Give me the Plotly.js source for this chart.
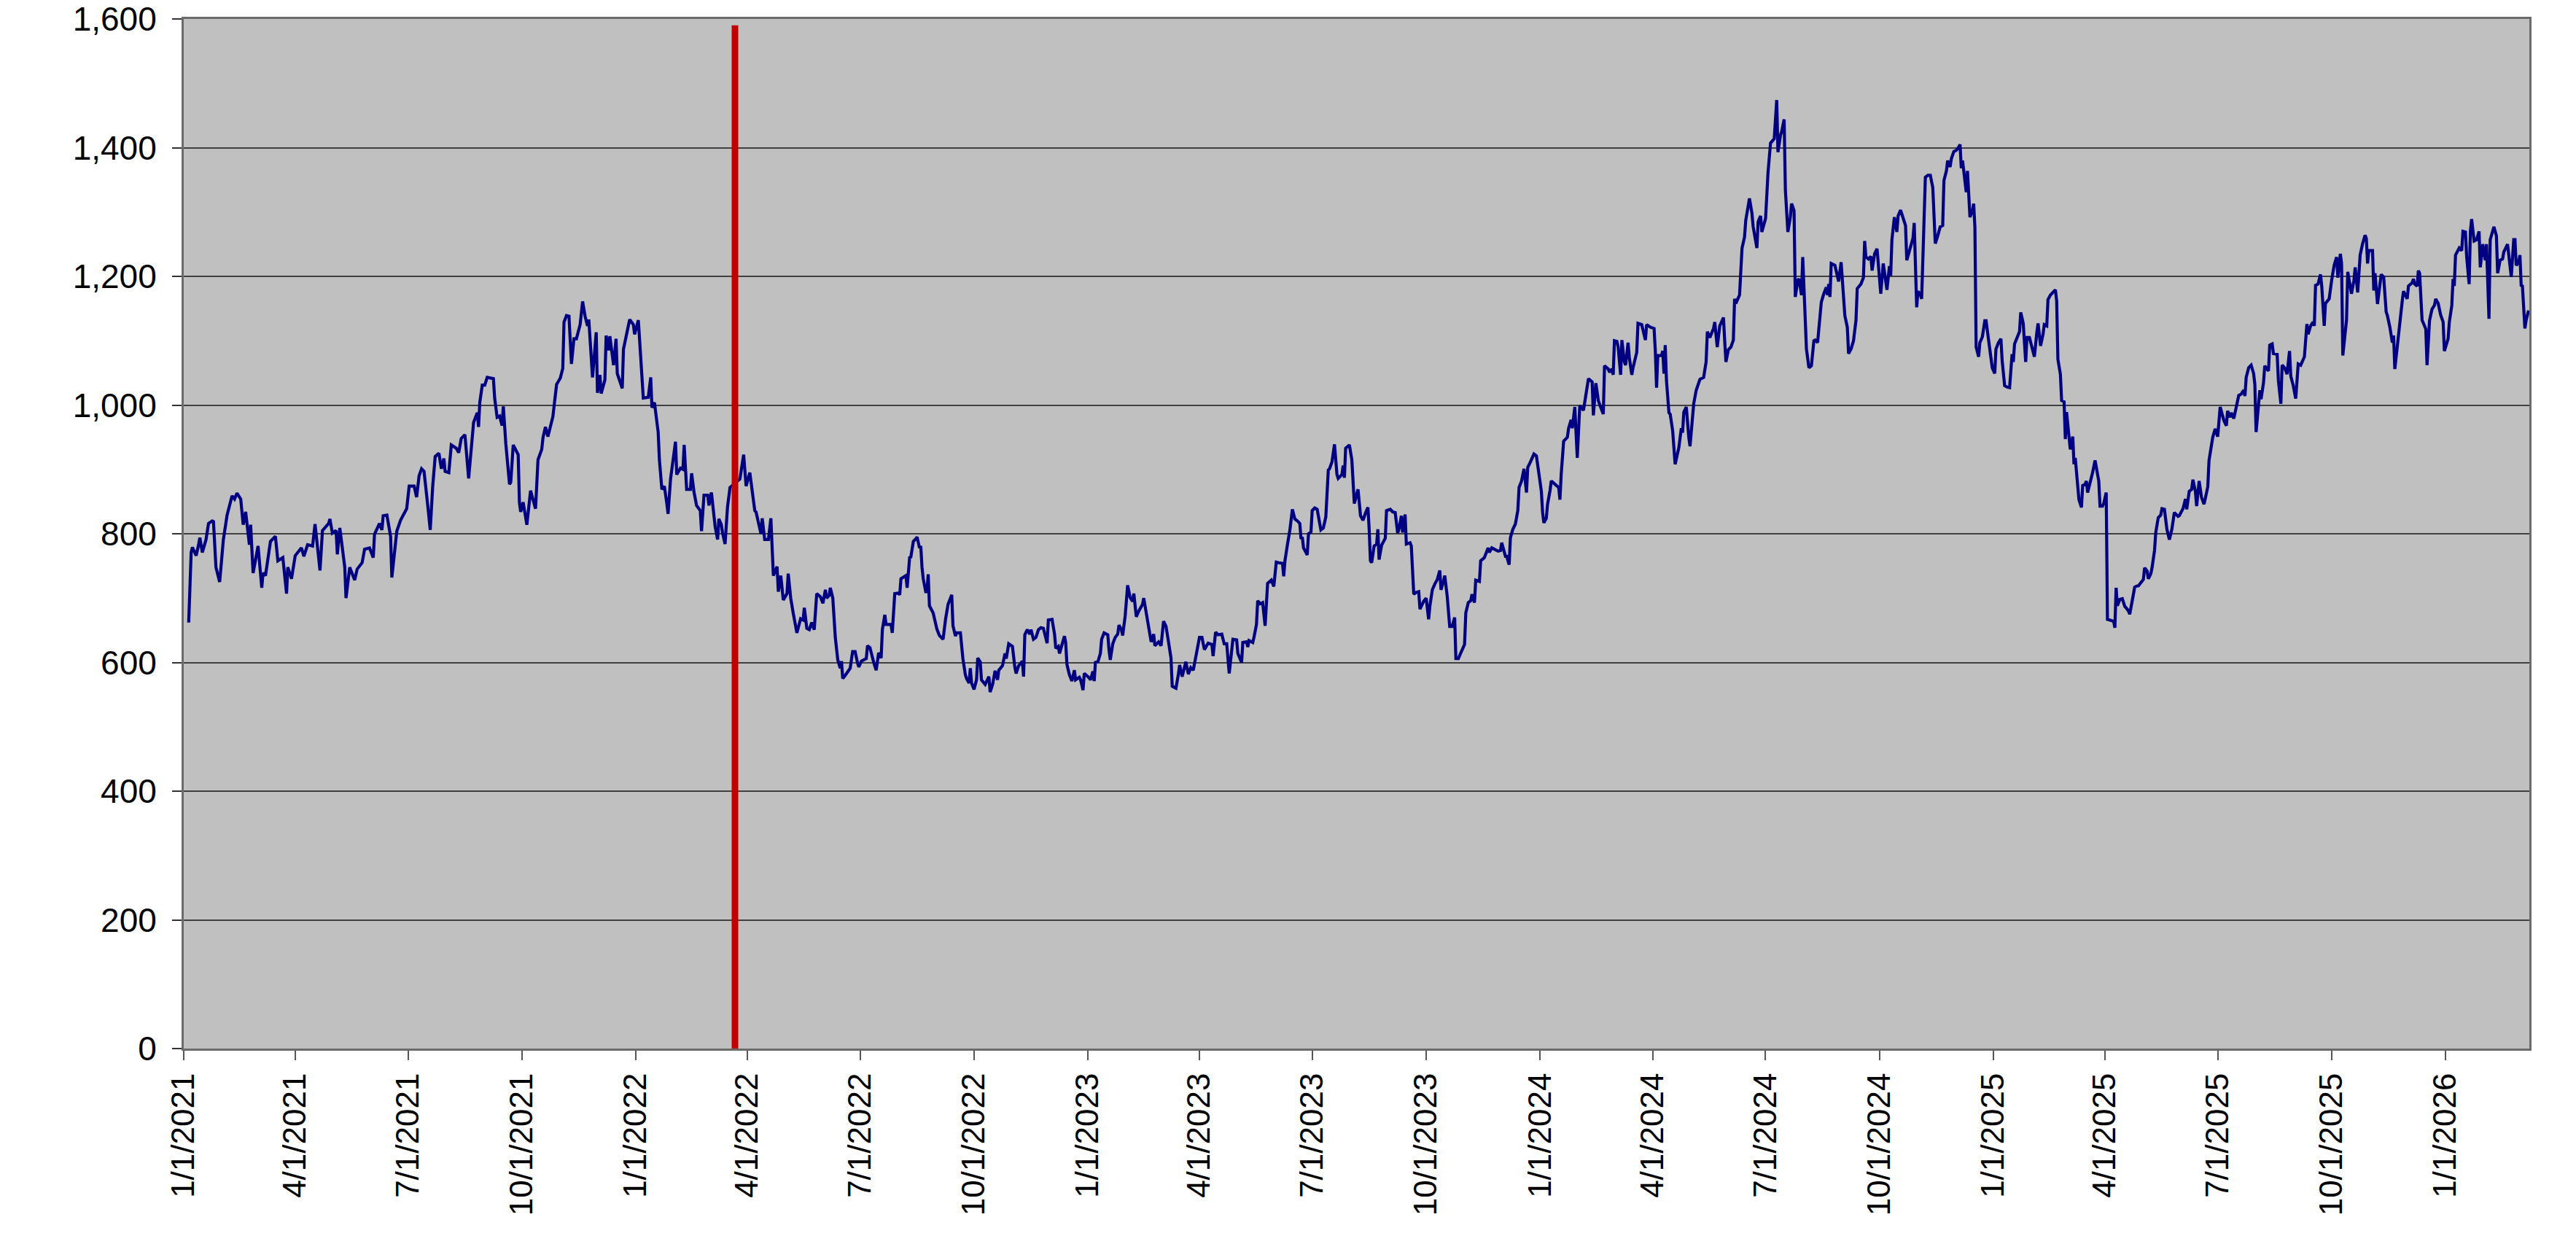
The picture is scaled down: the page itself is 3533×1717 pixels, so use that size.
<!DOCTYPE html>
<html>
<head>
<meta charset="utf-8">
<script src="https://cdn.plot.ly/plotly-3.0.1.min.js"></script>
<style>
  html, body { margin: 0; padding: 0; background: #fff; }
  #chart { width: 3533px; height: 1717px; }
</style>
</head>
<body>
<div id="chart"></div>
<script>
// days after 1/1/2021
var days = [
  4,6,7,10,12,13,15,18,20,23,
  24,26,29,32,35,39,41,43,46,48,
  50,53,54,56,60,63,64,66,70,74,
  76,80,83,84,87,90,95,97,100,104,
  106,110,112,117,118,120,123,124,126,130,
  131,134,138,140,144,146,150,153,154,158,
  160,161,164,167,168,172,175,180,182,186,
  188,190,192,194,197,199,201,203,206,208,
  210,211,214,215,216,220,222,224,227,230,
  232,234,237,238,239,241,243,245,250,251,
  253,255,257,258,260,263,264,266,270,271,
  272,274,277,280,284,286,289,290,292,294,
  298,300,301,304,306,307,309,311,313,315,
  317,320,322,324,326,327,330,333,334,336,
  337,340,341,343,344,347,349,350,354,355,
  357,360,363,364,367,370,371,375,377,378,
  380,383,384,386,388,390,391,393,395,397,
  398,401,403,404,406,409,410,412,414,417,
  418,420,423,424,426,429,431,432,434,435,
  437,439,441,449,452,454,457,461,462,466,
  467,469,472,474,476,
  479,480,482,484,487,488,490,492,494,495,
  498,500,501,503,505,507,509,511,514,516,
  518,519,521,522,524,526,528,530,531,532,
  534,537,538,540,542,544,545,547,551,552,
  554,557,559,561,563,564,566,567,571,572,
  573,574,577,578,579,581,583,584,585,586,
  587,589,591,592,594,595,596,597,599,600,
  601,602,605,607,608,610,613,615,617,620,
  621,623,624,627,629,631,632,634,635,636,
  638,640,641,643,644,647,650,651,653,655,
  657,658,661,663,664,666,669,671,672,674,
  677,678,679,681,683,684,686,688,690,692,
  694,697,698,701,703,704,706,707,711,712,
  713,715,717,719,720,723,724,726,727,731,
  732,734,735,736,738,740,741,743,746,747,
  748,750,752,754,755,757,758,760,762,764,
  766,767,769,771,774,775,777,778,780,781,
  783,784,787,789,791,793,795,797,798,801,
  803,804,806,809,811,813,815,818,820,822,
  824,827,830,831,833,835,838,840,842,844,
  847,850,851,854,855,858,859,860,863,864,
  866,867,869,871,873,875,878,880,882,884,
  887,888,889,891,893,895,897,899,901,902,
  903,904,907,908,910,911,913,915,917,918,
  920,922,924,925,927,929,931,932,935,936,
  937,938,941,943,
  945,948,950,952,954,956,957,958,959,961,
  963,964,965,967,970,971,974,976,978,980,
  981,983,984,986,987,990,991,993,995,997,
  998,1000,1001,1003,1005,1006,1008,1010,1012,1014,
  1015,1017,1018,1020,1022,1024,1026,1027,1029,1031,
  1034,1035,1037,1039,1040,1042,1043,1046,1047,1050,
  1053,1054,1056,1058,1061,1063,1064,1067,1068,1070,
  1071,1073,1075,1077,1078,1080,1082,1084,1085,1087,
  1090,1092,1094,1096,1097,1098,1100,1101,1103,1104,
  1107,1110,1111,1112,1114,1117,1118,1120,1121,1122,
  1123,1125,1127,1130,1132,1134,1137,1138,1140,1142,
  1144,1146,1147,1150,1151,1153,1154,1155,1157,1158,
  1160,1161,1163,1164,1166,1167,1169,1170,1173,1174,
  1177,1180,1181,1184,1187,1188,1189,1190,1193,1194,
  1195,1196,1197,1199,1200,1202,1204,1207,1209,1210,
  1211,1213,1215,1216,1219,1221,1224,1227,1229,1230,
  1232,1235,1236,1238,1240,1243,1244,1245,1247,1249,
  1251,1252,1253,1256,1258,1260,1261,1263,1264,1266,
  1267,1270,1271,1273,1274,1277,1279,1281,1284,1286,
  1287,1289,1290,1292,1293,1295,1297,1298,1300,1301,
  1303,1304,1306,1307,1309,1310,1312,1314,1316,1317,
  1319,1320,1322,1324,1326,1327,1328,1329,1330,1333,
  1334,1336,1338,1339,1341,1343,1344,1346,1348,1350,
  1351,1354,1356,1357,1358,1360,1362,1363,1365,1367,
  1369,1370,1372,1374,1375,1377,1378,1379,1381,1383,
  1384,1386,1388,1390,1391,1394,1396,1397,1399,1400,
  1402,1403,1405,1406,1408,1410,1412,
  1414,1416,1418,1420,1421,1423,1424,1426,1427,1429,
  1431,1433,1434,1435,1436,1437,1439,1440,1442,1444,
  1445,1446,1447,1449,1450,1452,1454,1455,1457,1458,
  1460,1462,1463,1465,1467,1468,1470,1472,1474,1476,
  1477,1478,1480,1482,1483,1485,1487,1488,1490,1492,
  1494,1496,1497,1499,1501,1502,1504,1505,1507,1509,
  1511,1512,1513,1515,1516,1518,1519,1520,1522,1523,
  1525,1526,1527,1529,1530,1532,1533,1535,1536,1537,
  1539,1541,1543,1545,1546,1547,1549,1550,1552,1553,
  1556,1558,1559,1560,1561,1563,1565,1567,1568,1570,
  1571,1573,1575,1577,1578,1580,1582,1583,1585,1586,
  1588,1589,1591,1592,1594,1596,1597,1599,1601,1603,
  1605,1607,1610,1611,1613,1614,1616,1617,1619,1621,
  1622,1624,1625,1627,1629,1631,1634,1635,1638,1640,
  1642,1644,1647,1649,1650,1652,1653,1655,1656,1658,
  1659,1661,1663,1664,1665,1667,1669,1671,1672,1673,
  1676,1677,1679,1680,1683,1684,1686,1687,1690,1691,
  1693,1694,1696,1698,1700,1701,1703,1705,1707,1709,
  1711,1712,1714,1715,1717,1719,1720,1721,1723,1725,
  1726,1728,1729,1732,1734,1736,1738,1739,1741,1742,
  1743,1746,1747,1750,1752,1753,1755,1757,1759,1761,
  1762,1763,1764,1767,1768,1769,1771,1772,1774,1776,
  1778,1779,1781,1783,1784,1785,1787,1789,1791,1792,
  1795,1796,1799,1800,1801,1803,1804,1805,1807,1809,
  1810,1811,1813,1815,1817,1818,1820,1822,1824,1825,
  1828,1829,1831,1832,1833,1834,1837,1839,1840,1842,
  1843,1845,1846,1847,1849,1851,1853,1854,1856,1858,
  1859,1861,1862,1865,1867,1868,1870,1872,1873,1876,
  1877,1879,1881,1882,1883,1885,1886,1887,1888,1890,
  1891,1893
];

var price = [
  662,771,779,766,783,794,771,791,816,820,
  819,748,725,791,829,859,854,863,854,814,
  834,783,814,739,781,716,739,735,788,796,
  758,763,707,748,730,766,778,765,783,781,
  815,743,805,816,823,801,805,768,809,748,
  700,748,728,745,755,776,778,763,799,816,
  806,828,829,796,732,804,821,839,874,874,
  857,890,901,897,844,806,874,920,925,901,
  917,897,895,921,938,933,926,948,954,886,
  935,973,988,966,1004,1031,1031,1043,1041,1011,
  981,983,968,998,940,877,880,938,923,849,
  834,849,814,867,839,915,931,949,966,951,
  982,1016,1032,1042,1057,1129,1139,1138,1064,1103,
  1103,1125,1161,1138,1123,1133,1043,1113,1019,1047,
  1018,1039,1108,1085,1107,1062,1103,1049,1026,1087,
  1107,1133,1125,1110,1132,1029,1011,1012,1043,996,
  1004,958,915,869,874,847,831,885,917,943,
  892,902,900,938,869,869,894,864,844,836,
  804,860,860,844,864,811,791,823,814,801,
  784,842,872,885,923,874,895,836,834,800,
  824,791,791,824,735,
  749,710,735,697,707,738,700,677,658,646,
  668,666,685,653,651,662,651,707,702,692,
  713,700,704,716,700,639,604,591,602,575,
  580,588,591,617,617,599,593,602,606,626,
  623,600,588,615,607,651,674,659,659,646,
  685,707,708,705,730,733,735,716,737,763,
  764,788,792,795,778,781,748,730,710,710,
  737,688,677,659,652,642,636,667,690,705,
  657,641,646,646,606,581,575,568,591,568,
  558,573,607,601,573,566,578,554,566,587,
  573,588,595,614,606,629,625,592,583,595,
  602,578,643,651,644,651,636,639,651,654,
  653,630,666,667,644,622,625,614,641,631,
  597,581,571,588,573,577,573,557,583,576,
  573,586,571,600,601,614,636,646,643,619,
  604,629,639,644,658,651,642,672,720,701,
  695,707,671,680,690,700,677,664,648,632,
  644,626,632,626,664,656,632,607,563,560,
  582,596,578,601,582,592,588,616,639,639,
  620,630,628,610,647,643,644,629,629,583,
  636,635,614,600,631,632,624,634,631,639,
  659,696,691,693,657,723,728,718,756,755,
  754,734,758,783,806,838,823,820,816,792,
  795,778,767,800,803,836,840,838,815,806,
  809,826,899,901,912,939,892,886,892,906,
  887,933,938,915,
  847,869,828,821,832,841,807,758,755,781,
  784,807,760,782,793,836,838,834,833,801,
  807,828,802,830,784,786,781,706,709,710,
  683,693,695,700,667,688,713,722,729,743,
  713,726,735,703,656,656,670,606,606,615,
  628,677,693,696,706,693,728,726,758,763,
  778,771,778,776,773,774,786,765,765,752,
  794,807,815,836,872,882,901,864,903,911,
  924,921,895,866,833,817,824,846,867,882,
  877,872,853,892,944,950,964,977,964,981,
  997,918,999,992,1017,1041,1036,984,1034,1007,
  996,986,1061,1056,1051,1056,1047,1100,1099,1090,
  1047,1101,1067,1062,1097,1074,1047,1058,1082,1127,
  1125,1101,1125,1121,1119,1084,1027,1077,1077,1084,
  1049,1093,1038,988,986,960,908,934,964,957,
  989,997,950,936,1002,1023,1040,1043,1067,1114,
  1105,1119,1129,1090,1123,1136,1100,1067,1086,1090,
  1101,1165,1158,1171,1244,1261,1287,1315,1321,1298,
  1277,1244,1285,1294,1269,1290,1362,1407,1414,1474,
  1393,1419,1425,1444,1334,1269,1292,1313,1302,1168,
  1194,1196,1171,1230,1123,1087,1058,1061,1100,1101,
  1097,1123,1160,1173,1183,1171,1188,1168,1220,1217,
  1209,1192,1222,1191,1139,1121,1080,1087,1100,1132,
  1181,1188,1198,1255,1230,1227,1231,1209,1235,1243,
  1191,1173,1220,1194,1179,1216,1201,1257,1292,1269,
  1294,1303,1292,1279,1225,1246,1259,1283,1152,1177,
  1171,1165,1308,1354,1357,1357,1338,
  1251,1263,1277,1279,1349,1364,1380,1370,1383,1394,
  1396,1401,1405,1368,1380,1364,1331,1364,1292,1302,
  1313,1276,1090,1075,1097,1106,1131,1131,1100,1084,
  1058,1049,1087,1097,1103,1069,1030,1028,1027,1079,
  1067,1095,1105,1114,1144,1127,1067,1105,1105,1090,
  1075,1113,1127,1092,1110,1125,1123,1164,1171,1175,
  1179,1162,1071,1048,1007,1005,947,989,950,931,
  951,908,918,869,853,841,875,877,882,864,
  879,895,914,895,882,843,843,847,864,667,
  665,664,654,716,688,698,699,687,685,680,
  675,695,717,719,719,724,729,747,742,730,
  738,747,774,802,825,829,839,838,807,791,
  807,833,827,828,834,839,854,838,866,869,
  884,866,843,882,856,846,873,914,950,963,
  951,997,976,968,991,981,988,979,988,1010,
  1015,1017,1023,1014,1043,1058,1062,1049,1032,958,
  1023,1009,1035,1061,1053,1093,1095,1080,1079,1038,
  1002,1062,1058,1048,1084,1045,1030,1010,1064,1062,
  1071,1075,1126,1110,1123,1129,1123,1186,1188,1203,
  1185,1123,1158,1165,1194,1217,1230,1198,1235,1220,
  1077,1132,1207,1173,1194,1214,1175,1233,1251,1264,
  1259,1220,1240,1240,1178,1205,1157,1175,1203,1199,
  1145,1139,1121,1097,1108,1056,1095,1126,1162,1177,
  1165,1185,1190,1196,1188,1185,1209,1205,1132,1123,
  1118,1062,1131,1149,1155,1165,1158,1140,1129,1084,
  1103,1129,1155,1196,1185,1233,1244,1240,1270,1269,
  1230,1188,1270,1289,1255,1257,1270,1214,1250,1225,
  1250,1134,1257,1277,1263,1205,1225,1227,1238,1250,
  1230,1199,1257,1257,1217,1222,1233,1186,1185,1119,
  1132,1147
];

var markDate = '2022-03-22';
var markTop = 1590;

var tickDates = [
  '2021-01-01','2021-04-01','2021-07-01','2021-10-01',
  '2022-01-01','2022-04-01','2022-07-01','2022-10-01',
  '2023-01-01','2023-04-01','2023-07-01','2023-10-01',
  '2024-01-01','2024-04-01','2024-07-01','2024-10-01',
  '2025-01-01','2025-04-01','2025-07-01','2025-10-01',
  '2026-01-01'
];
var tickLabels = [
  '1/1/2021','4/1/2021','7/1/2021','10/1/2021',
  '1/1/2022','4/1/2022','7/1/2022','10/1/2022',
  '1/1/2023','4/1/2023','7/1/2023','10/1/2023',
  '1/1/2024','4/1/2024','7/1/2024','10/1/2024',
  '1/1/2025','4/1/2025','7/1/2025','10/1/2025',
  '1/1/2026'
];

if (days.length !== price.length) {
  console.error('length mismatch', days.length, price.length);
}

var start = Date.UTC(2021, 0, 1);
var dates = days.map(function (d) {
  return new Date(start + d * 864e5).toISOString().slice(0, 10);
});

var font = 'Arial, "Liberation Sans", sans-serif';

var data = [{
    x: dates,
    y: price,
    type: 'scatter',
    mode: 'lines',
    line: {color: '#000080', width: 4.2},
    hoverinfo: 'x+y'
  }, {
    x: [markDate, markDate],
    y: [0, markTop],
    type: 'scatter',
    mode: 'lines',
    line: {color: '#C00000', width: 9},
    hoverinfo: 'none'
  }];

var layout = {
  width: 3533,
  height: 1717,
  margin: {l: 252, r: 64, t: 26, b: 279, pad: 0},
  paper_bgcolor: '#ffffff',
  plot_bgcolor: '#C0C0C0',
  showlegend: false,
  xaxis: {
    type: 'date',
    range: ['2021-01-01', '2026-03-09 14:00'],
    tickmode: 'array',
    tickvals: tickDates,
    ticktext: tickLabels,
    tickangle: -90,
    ticks: 'outside',
    ticklen: 13,
    tickwidth: 2,
    tickcolor: '#555',
    showgrid: false,
    zeroline: false,
    showline: true,
    linecolor: '#6b6b6b',
    linewidth: 3,
    mirror: true,
    automargin: false,
    tickfont: {family: font, size: 44, color: '#000'}
  },
  yaxis: {
    range: [0, 1600],
    tick0: 0,
    dtick: 200,
    tickformat: ',d',
    ticks: 'outside',
    ticklen: 13,
    tickwidth: 2,
    tickcolor: '#333',
    ticklabelstandoff: 12,
    showgrid: true,
    gridcolor: '#404040',
    gridwidth: 2,
    zeroline: false,
    showline: true,
    linecolor: '#6b6b6b',
    linewidth: 3,
    mirror: true,
    automargin: false,
    tickfont: {family: font, size: 46, color: '#000'}
  }
};

Plotly.newPlot('chart', data, layout, {displayModeBar: false, staticPlot: true});
</script>
</body>
</html>
